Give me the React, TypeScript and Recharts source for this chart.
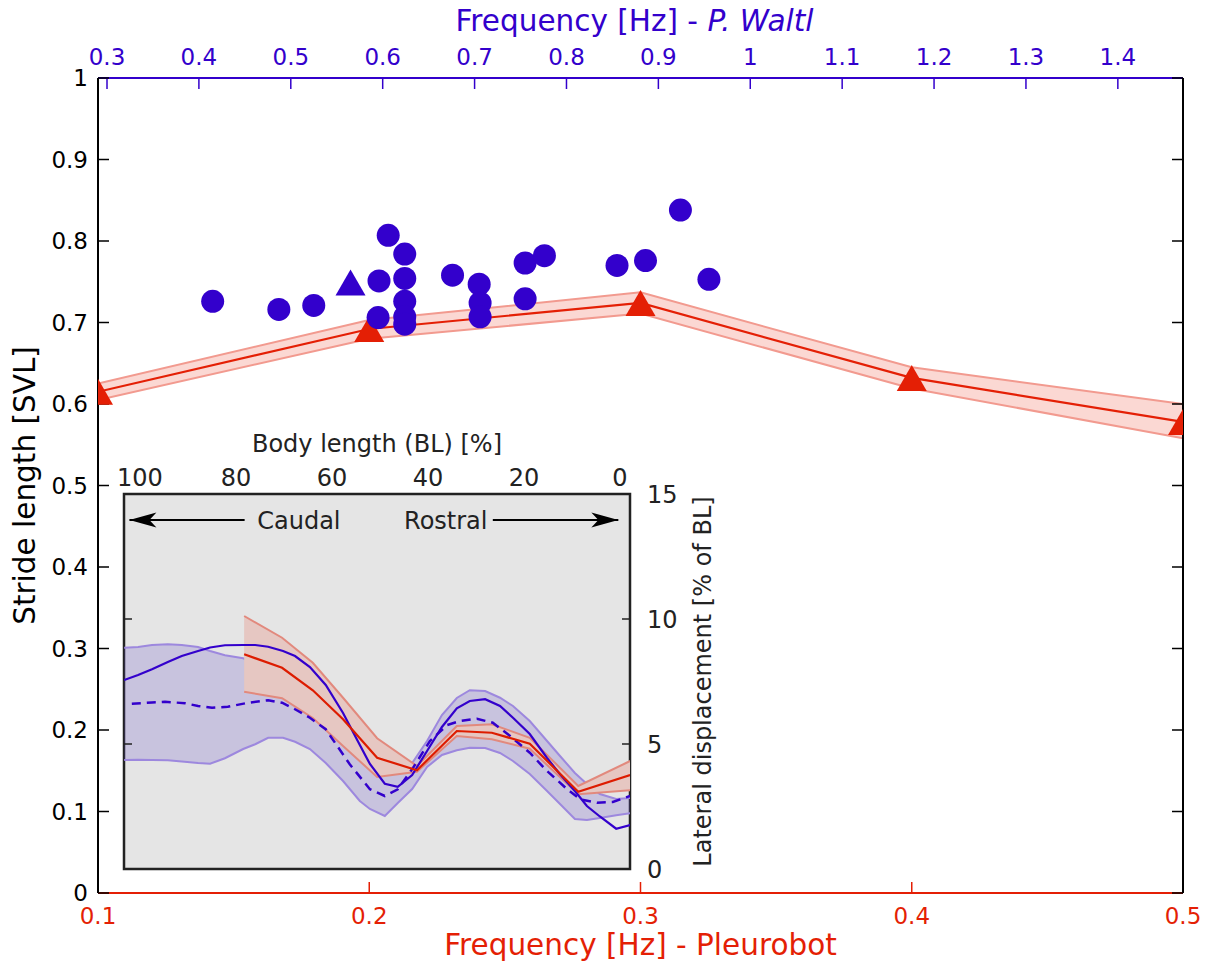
import React from 'react';
import {
  ComposedChart, Line, Area, Scatter, XAxis, YAxis,
  ReferenceArea, ReferenceLine, ReferenceDot,
} from 'recharts';

const FONT = "'DejaVu Sans', sans-serif";
const RED = '#e41f05';
const BLUE = '#3300cc';
const INK = '#222222';

// ---------------- main chart data ----------------
const pleuroFreq = [0.1, 0.2, 0.3, 0.4, 0.5];
const pleuroStride = [0.615, 0.692, 0.724, 0.632, 0.578];
const pleuroStrideLow = [0.605, 0.680, 0.711, 0.619, 0.558];
const pleuroStrideHigh = [0.625, 0.703, 0.737, 0.645, 0.600];

const waltlFreq = [0.415, 0.487, 0.525, 0.596, 0.595, 0.606, 0.624, 0.624, 0.624, 0.624, 0.624, 0.676, 0.705, 0.706, 0.706, 0.755, 0.755, 0.776, 0.855, 0.886, 0.924, 0.955];
const waltlStride = [0.726, 0.716, 0.721, 0.751, 0.706, 0.807, 0.784, 0.754, 0.726, 0.707, 0.698, 0.758, 0.747, 0.724, 0.707, 0.773, 0.729, 0.782, 0.770, 0.776, 0.838, 0.753];
const waltlTriFreq = [0.565];
const waltlTriStride = [0.749];

const bottomTicks = [0.1, 0.2, 0.3, 0.4, 0.5];
const topTicks = [0.3, 0.4, 0.5, 0.6, 0.7, 0.8, 0.9, 1, 1.1, 1.2, 1.3, 1.4];
const strideTicks = [0, 0.1, 0.2, 0.3, 0.4, 0.5, 0.6, 0.7, 0.8, 0.9, 1];
const topDomain = [0.2902, 1.4709];

// ---------------- inset data ----------------
const blueX = [103.3, 100.4, 97.5, 94.2, 91.3, 87.9, 85.4, 82.3, 78.5, 76.0, 73.3, 70.2, 67.7, 64.6, 61.3, 57.7, 54.2, 52.1, 49.0, 46.3, 43.3, 40.2, 37.1, 34.0, 31.3, 28.1, 25.0, 22.3, 18.8, 15.2, 12.5, 9.4, 6.9, 4.2, 0.8, -2.1];
const blueUpper = [8.85, 8.88, 8.96, 8.99, 8.96, 8.88, 8.72, 8.55, 8.43, 8.24, 8.0, 7.68, 7.36, 6.92, 6.4, 5.72, 5.04, 4.72, 4.32, 4.12, 4.24, 5.12, 6.16, 6.84, 7.15, 7.12, 6.85, 6.52, 5.92, 5.12, 4.52, 3.84, 3.4, 3.0, 2.8, 2.84];
const blueLower = [4.36, 4.37, 4.36, 4.35, 4.3, 4.24, 4.21, 4.43, 4.8, 4.99, 5.25, 5.25, 5.09, 4.8, 4.24, 3.52, 2.72, 2.4, 2.12, 2.64, 3.2, 4.08, 4.56, 4.75, 4.85, 4.84, 4.64, 4.32, 3.8, 3.12, 2.6, 2.0, 1.96, 2.04, 2.15, 2.23];
const blueSolid = [7.56, 7.76, 7.99, 8.28, 8.52, 8.72, 8.86, 8.95, 8.96, 8.96, 8.89, 8.72, 8.52, 8.08, 7.36, 6.24, 4.96, 4.2, 3.41, 3.29, 3.76, 4.72, 5.68, 6.43, 6.72, 6.79, 6.52, 6.05, 5.4, 4.44, 3.79, 3.12, 2.52, 2.1, 1.61, 1.76];

const dashX = [101.7, 97.5, 94.8, 90.6, 87.9, 85.0, 81.7, 77.5, 73.3, 70.4, 67.7, 64.6, 61.3, 56.3, 52.1, 49.0, 46.3, 43.1, 39.6, 36.0, 33.3, 29.8, 26.5, 22.9, 18.8, 15.2, 11.0, 8.3, 4.8, 1.5, -2.1];
const dashY = [6.61, 6.66, 6.69, 6.63, 6.52, 6.45, 6.49, 6.65, 6.75, 6.65, 6.39, 6.05, 5.59, 4.19, 3.19, 2.92, 3.19, 4.05, 5.12, 5.76, 5.92, 6.01, 5.85, 5.32, 4.65, 3.92, 3.19, 2.79, 2.65, 2.68, 2.92];

const redX = [78.3, 70.4, 64.0, 57.7, 50.6, 42.3, 34.0, 26.7, 18.8, 8.7, -2.1];
const redMean = [8.59, 8.05, 7.15, 5.99, 4.45, 3.95, 5.52, 5.45, 5.01, 3.09, 3.76];
const redHigh = [10.12, 9.25, 8.25, 6.85, 5.23, 4.12, 5.72, 5.79, 5.25, 3.32, 4.32];
const redLow = [7.09, 6.83, 6.04, 4.92, 3.68, 3.89, 5.32, 5.19, 4.81, 2.99, 3.15];

const blLabelTicks = [0, 20, 40, 60, 80, 100];
const blDomain = [-2.08, 103.33];
const boxTicks = [10, 20, 30, 40, 50, 60, 70, 80, 90];
const dispTicks = [0, 5, 10, 15];

// annotation positions (data units of the inset)
const arrowY = 13.96;
const caudalArrow = [102.2, 78.2];
const rostralArrow = [26.5, 0.35];
const annotY = 13.6;
const annotations = [
  { x: 66.9, text: 'Caudal' },
  { x: 36.3, text: 'Rostral' },
];

// ---------------- tables ----------------
const pleuroData = pleuroFreq.map((x, i) => ({ x, y: pleuroStride[i], range: [pleuroStrideLow[i], pleuroStrideHigh[i]] }));
const waltlData = waltlFreq.map((x, i) => ({ x, y: waltlStride[i] }));
const waltlTriData = waltlTriFreq.map((x, i) => ({ x, y: waltlTriStride[i] }));

const blueBandData = blueX.map((x, i) => ({ x, range: [blueLower[i], blueUpper[i]] }));
const blueSolidData = blueX.map((x, i) => ({ x, y: blueSolid[i] }));
const blueDashData = dashX.map((x, i) => ({ x, y: dashY[i] }));
const redBandData = redX.map((x, i) => ({ x, range: [redLow[i], redHigh[i]] }));
const redMeanData = redX.map((x, i) => ({ x, y: redMean[i] }));

const triPoints = (cx: number, cy: number) =>
  `${cx},${cy - 13} ${cx - 15},${cy + 13} ${cx + 15},${cy + 13}`;

// ---------------- labels ----------------
const TITLE = 29.5;
const mainTopTitle = (props: any) => {
  const vb = props.viewBox || { x: 98, y: 0, width: 1085, height: 78 };
  return (
    <text x={vb.x + vb.width / 2 - 6} y={vb.y + 31} textAnchor="middle" fill={BLUE} fontSize={TITLE} fontFamily={FONT}>
      {'Frequency [Hz] - '}
      <tspan fontStyle="italic">P. Waltl</tspan>
    </text>
  );
};
const mainBottomTitle = (props: any) => {
  const vb = props.viewBox || { x: 98, y: 893, width: 1085, height: 73 };
  return (
    <text x={vb.x + vb.width / 2} y={vb.y + 62} textAnchor="middle" fill={RED} fontSize={TITLE} fontFamily={FONT}>
      Frequency [Hz] - Pleurobot
    </text>
  );
};
const mainLeftTitle = (props: any) => {
  const vb = props.viewBox || { x: 0, y: 78, width: 98, height: 815 };
  const x = vb.x + 35;
  const y = vb.y + vb.height / 2;
  return (
    <text x={x} y={y} transform={`rotate(-90, ${x}, ${y})`} textAnchor="middle" fill="#000" fontSize={TITLE} fontFamily={FONT}>
      Stride length [SVL]
    </text>
  );
};
const insetTopTitle = (props: any) => {
  const vb = props.viewBox || { x: 124, y: 434, width: 506, height: 60 };
  return (
    <text x={vb.x + vb.width / 2} y={vb.y + 18} textAnchor="middle" fill={INK} fontSize={24} fontFamily={FONT}>
      Body length (BL) [%]
    </text>
  );
};
const insetRightTitle = (props: any) => {
  const vb = props.viewBox || { x: 630, y: 494, width: 100, height: 375 };
  const x = vb.x + 81;
  const y = vb.y + vb.height / 2;
  return (
    <text x={x} y={y} transform={`rotate(-90, ${x}, ${y})`} textAnchor="middle" fill={INK} fontSize={24} fontFamily={FONT}>
      Lateral displacement [% of BL]
    </text>
  );
};

const noTick = () => <g />;

function MainChart() {
  return (
    <ComposedChart width={1210} height={966} margin={{ top: 0, right: 0, bottom: 0, left: 0 }}>
      <XAxis
        xAxisId="pleuro" type="number" dataKey="x" orientation="bottom" height={73}
        domain={[0.1, 0.5]} allowDataOverflow ticks={bottomTicks} interval={0}
        axisLine={{ stroke: RED, strokeWidth: 2 }} tickLine={{ stroke: RED, strokeWidth: 1.5 }}
        tickSize={-11} tickMargin={26}
        tick={{ fill: RED, fontSize: 23, fontFamily: FONT }}
        label={mainBottomTitle}
      />
      <XAxis
        xAxisId="waltl" type="number" dataKey="x" orientation="top" height={78}
        domain={topDomain} allowDataOverflow ticks={topTicks} interval={0}
        axisLine={{ stroke: BLUE, strokeWidth: 2 }} tickLine={{ stroke: BLUE, strokeWidth: 1.5 }}
        tickSize={-11} tickMargin={24}
        tick={{ fill: BLUE, fontSize: 23, fontFamily: FONT }}
        label={mainTopTitle}
      />
      <YAxis
        yAxisId="stride" type="number" dataKey="y" orientation="left" width={98}
        domain={[0, 1]} allowDataOverflow ticks={strideTicks} interval={0}
        axisLine={{ stroke: '#000', strokeWidth: 2 }} tickLine={{ stroke: '#000', strokeWidth: 1.5 }}
        tickSize={-11} tickMargin={21}
        tick={{ fill: '#000', fontSize: 23, fontFamily: FONT }}
        label={mainLeftTitle}
      />
      <YAxis
        yAxisId="strideR" type="number" orientation="right" width={27}
        domain={[0, 1]} allowDataOverflow ticks={strideTicks} interval={0}
        axisLine={{ stroke: '#000', strokeWidth: 2 }} tickLine={{ stroke: '#000', strokeWidth: 1.5 }}
        tickSize={-11} tick={noTick}
      />
      <Area
        xAxisId="pleuro" yAxisId="stride" data={pleuroData} dataKey="range" type="linear"
        fill="#fbd8d3" fillOpacity={1} stroke="#f29a8f" strokeWidth={2}
        isAnimationActive={false} dot={false} activeDot={false}
      />
      <Line
        xAxisId="pleuro" yAxisId="stride" data={pleuroData} dataKey="y" type="linear"
        stroke={RED} strokeWidth={2.2} isAnimationActive={false} activeDot={false}
        dot={(p: any) => <polygon key={`pt${p.index}`} points={triPoints(p.cx, p.cy)} fill={RED} />}
      />
      <Scatter
        xAxisId="waltl" yAxisId="stride" data={waltlData} isAnimationActive={false}
        shape={(p: any) => <circle cx={p.cx} cy={p.cy} r={11.5} fill={BLUE} />}
      />
      <Scatter
        xAxisId="waltl" yAxisId="stride" data={waltlTriData} isAnimationActive={false}
        shape={(p: any) => <polygon points={triPoints(p.cx, p.cy)} fill={BLUE} />}
      />
    </ComposedChart>
  );
}

const leftHead = (p: any) => (
  <polygon points={`${p.cx},${p.cy} ${p.cx + 27},${p.cy - 7.5} ${p.cx + 20},${p.cy} ${p.cx + 27},${p.cy + 7.5}`} fill="#000" />
);
const rightHead = (p: any) => (
  <polygon points={`${p.cx},${p.cy} ${p.cx - 27},${p.cy - 7.5} ${p.cx - 20},${p.cy} ${p.cx - 27},${p.cy + 7.5}`} fill="#000" />
);

function InsetChart() {
  return (
    <ComposedChart width={760} height={900} margin={{ top: 434, right: 30, bottom: 30, left: 123 }}>
      <XAxis
        xAxisId="lbl" type="number" dataKey="x" orientation="top" height={60}
        domain={blDomain} allowDataOverflow reversed ticks={blLabelTicks} interval={0}
        axisLine={false} tickLine={false} tickSize={0} tickMargin={8}
        tick={{ fill: INK, fontSize: 24, fontFamily: FONT }}
        label={insetTopTitle}
      />
      <XAxis
        xAxisId="box" type="number" orientation="bottom" height={1}
        domain={[0, 100]} allowDataOverflow reversed ticks={boxTicks} interval={0}
        axisLine={false} tickLine={{ stroke: INK, strokeWidth: 1.5 }} tickSize={-8} tick={noTick}
      />
      <YAxis
        yAxisId="r" type="number" dataKey="y" orientation="right" width={100}
        domain={[0, 15]} allowDataOverflow ticks={dispTicks} interval={0}
        axisLine={false} tickLine={{ stroke: INK, strokeWidth: 1.5 }} tickSize={-8} tickMargin={25}
        tick={{ fill: INK, fontSize: 24, fontFamily: FONT }}
        label={insetRightTitle}
      />
      <YAxis
        yAxisId="l" type="number" orientation="left" width={1}
        domain={[0, 15]} allowDataOverflow ticks={dispTicks} interval={0}
        axisLine={false} tickLine={{ stroke: INK, strokeWidth: 1.5 }} tickSize={-8} tick={noTick}
      />
      <ReferenceArea
        xAxisId="lbl" yAxisId="r" x1={blDomain[1]} x2={blDomain[0]} y1={0} y2={15}
        fill="#e5e5e5" fillOpacity={1} stroke={INK} strokeWidth={2.5} ifOverflow="visible"
      />
      {boxTicks.map((t) => (
        <ReferenceLine
          key={`tt${t}`} xAxisId="box" yAxisId="r"
          segment={[{ x: t, y: 15 }, { x: t, y: 14.68 }]}
          stroke={INK} strokeWidth={1.5} ifOverflow="visible"
        />
      ))}
      <Area
        xAxisId="lbl" yAxisId="r" data={blueBandData} dataKey="range" type="linear"
        fill="#6650c8" fillOpacity={0.23} stroke="#9d88de" strokeWidth={2}
        isAnimationActive={false} dot={false} activeDot={false}
      />
      <Area
        xAxisId="lbl" yAxisId="r" data={redBandData} dataKey="range" type="linear"
        fill="#e6c7c2" fillOpacity={1} stroke="#e2897d" strokeWidth={2}
        isAnimationActive={false} dot={false} activeDot={false}
      />
      <Line
        xAxisId="lbl" yAxisId="r" data={blueDashData} dataKey="y" type="linear"
        stroke={BLUE} strokeWidth={2.5} strokeDasharray="9 6" dot={false} activeDot={false}
        isAnimationActive={false}
      />
      <Line
        xAxisId="lbl" yAxisId="r" data={blueSolidData} dataKey="y" type="linear"
        stroke={BLUE} strokeWidth={2.2} dot={false} activeDot={false} isAnimationActive={false}
      />
      <Line
        xAxisId="lbl" yAxisId="r" data={redMeanData} dataKey="y" type="linear"
        stroke="#dd1c00" strokeWidth={2.2} dot={false} activeDot={false} isAnimationActive={false}
      />
      <ReferenceLine
        xAxisId="lbl" yAxisId="r"
        segment={[{ x: caudalArrow[0], y: arrowY }, { x: caudalArrow[1], y: arrowY }]}
        stroke="#000" strokeWidth={2}
      />
      <ReferenceLine
        xAxisId="lbl" yAxisId="r"
        segment={[{ x: rostralArrow[0], y: arrowY }, { x: rostralArrow[1], y: arrowY }]}
        stroke="#000" strokeWidth={2}
      />
      <ReferenceDot xAxisId="lbl" yAxisId="r" x={caudalArrow[0]} y={arrowY} shape={leftHead} />
      <ReferenceDot xAxisId="lbl" yAxisId="r" x={rostralArrow[1]} y={arrowY} shape={rightHead} />
      {annotations.map((a) => (
        <ReferenceDot
          key={a.text} xAxisId="lbl" yAxisId="r" x={a.x} y={annotY}
          shape={(p: any) => (
            <text x={p.cx} y={p.cy} textAnchor="middle" fill={INK} fontSize={24} fontFamily={FONT}>{a.text}</text>
          )}
        />
      ))}
    </ComposedChart>
  );
}

export default function App() {
  return (
    <div style={{ position: 'absolute', left: 0, top: 0, width: 1210, height: 966, background: '#fff', fontFamily: FONT }}>
      <div style={{ position: 'absolute', left: 0, top: 0 }}>
        <MainChart />
      </div>
      <div style={{ position: 'absolute', left: 0, top: 0 }}>
        <InsetChart />
      </div>
    </div>
  );
}
